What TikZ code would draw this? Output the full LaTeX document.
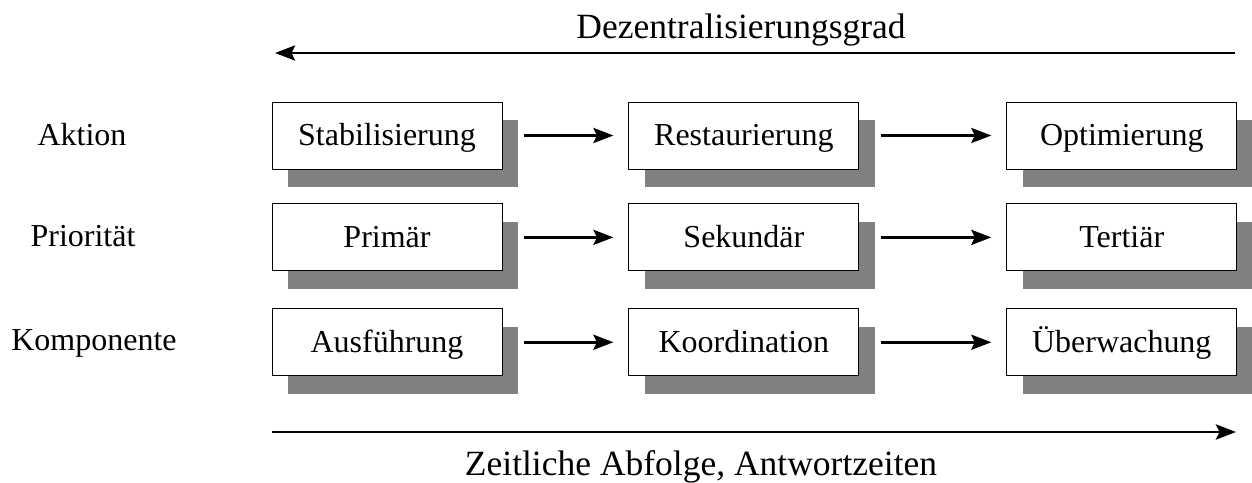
\documentclass[tikz,border=0pt]{standalone}
\usepackage{fontspec}
\setmainfont{Liberation Serif}
\usetikzlibrary{positioning,arrows.meta,shadows}

\begin{document}
\begin{tikzpicture}[
    box/.style={draw, line width=0.5pt, fill=white, minimum width=4.6cm, minimum height=1.34cm,
        text height=0.42cm, text depth=0pt, font=\fontsize{18.2}{22}\selectfont,
        drop shadow={shadow xshift=0.32cm, shadow yshift=-0.36cm, fill=black!50, opacity=1}},
    row_label/.style={text height=0.42cm, text depth=0pt, font=\fontsize{18.2}{22}\selectfont},
    axis_label/.style={anchor=base, font=\fontsize{20.2}{24}\selectfont},
    tip/.style={-{Stealth[length=0.4cm, width=0.3cm, inset=0.07cm]}, line width=1.7pt},
    flow_arrow/.style={tip, shorten <=0.44cm, shorten >=0.3cm}
]
    \useasboundingbox (0,0) rectangle (25.04,9.64);
    % Dezentralisierung (oben)
    \coordinate (dez_r) at (24.7,8.58);
    \coordinate (dez_l) at (5.5,8.58);
    \draw[tip] (dez_r) -- (dez_l);
    \node[axis_label] (dez) at (14.82,8.86) {Dezentralisierungsgrad};
    % Zeilen
    \node[row_label] (aktion) at (1.64,6.93) {Aktion};
    \node[row_label] (prio) at (1.66,4.91) {Priorität};
    \node[row_label] (komp) at (1.88,2.85) {Komponente};
    % Kaesten
    \node[box] (stab) at (7.74,6.93) {Stabilisierung};
    \node[box, right=2.52cm of stab] (rest) {Restaurierung};
    \node[box, right=2.94cm of rest] (opt) {Optimierung};
    \node[box, below=0.68cm of stab] (prim) {Primär};
    \node[box, right=2.52cm of prim] (sek) {Sekundär};
    \node[box, right=2.94cm of sek] (tert) {Tertiär};
    \node[box, below=0.74cm of prim] (ausf) {Ausführung};
    \node[box, right=2.52cm of ausf] (koord) {Koordination};
    \node[box, right=2.94cm of koord] (ueberw) {Überwachung};
    % Pfeile
    \draw[flow_arrow] (stab) -- (rest);
    \draw[flow_arrow] (rest) -- (opt);
    \draw[flow_arrow] (prim) -- (sek);
    \draw[flow_arrow] (sek) -- (tert);
    \draw[flow_arrow] (ausf) -- (koord);
    \draw[flow_arrow] (koord) -- (ueberw);
    % Zeitliche Abfolge (unten)
    \coordinate (zeit_l) at (5.44,1.0);
    \coordinate (zeit_r) at (24.72,1.0);
    \draw[tip] (zeit_l) -- (zeit_r);
    \node[axis_label] (zeit) at (14.02,0.14) {Zeitliche Abfolge, Antwortzeiten};
\end{tikzpicture}
\end{document}
